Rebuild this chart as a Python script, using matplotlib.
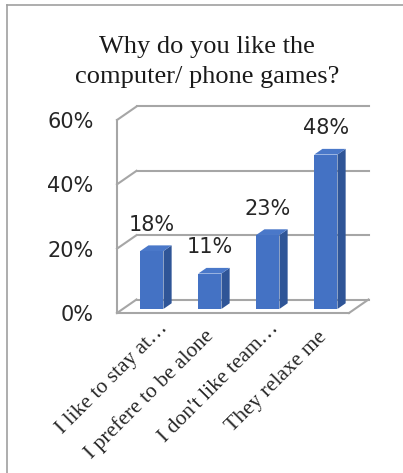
import matplotlib.pyplot as plt
from matplotlib.patches import Polygon

## données du graphique
categories = ['I like to stay at…', 'I prefere to be alone', "I don't like team…", 'They relaxe me']
values = [18, 11, 23, 48]
value_labels = ['18%', '11%', '23%', '48%']
yticks = [0, 20, 40, 60]
ytick_labels = ['0%', '20%', '40%', '60%']
title = 'Why do you like the\ncomputer/ phone games?'

W, H = 403, 473
fig = plt.figure(figsize=(W / 100, H / 100), dpi=100)
ax = fig.add_axes([117 / W, 1 - 313 / H, 232 / W, 193 / H])
ax.set_xlim(-0.5, 3.5)
ax.set_ylim(0, 60)

## profondeur de la boite 3d (unites des donnees)
DX = 19.5 / 58
DY = 13.5 / (193 / 60)
grid_c = '#a6a6a6'
lw = 1.5

## murs et sol
for g in yticks:
    ax.plot([-0.5 + DX, 3.5 + DX], [g + DY, g + DY], color=grid_c, lw=lw, clip_on=False, zorder=1)
    ax.plot([-0.5, -0.5 + DX], [g, g + DY], color=grid_c, lw=lw, clip_on=False, zorder=1)
ax.plot([-0.5, -0.5], [0, yticks[-1]], color=grid_c, lw=lw, clip_on=False, zorder=1)
ax.plot([-0.5, 3.5], [0, 0], color=grid_c, lw=lw, clip_on=False, zorder=1)
ax.plot([3.5, 3.5 + DX], [0, DY], color=grid_c, lw=lw, clip_on=False, zorder=1)

## barres 3d
d0, d1 = 0.3, 0.72
bw = 0.4
xs = [i + d0 * DX for i in range(len(values))]
ax.bar(xs, values, width=bw, bottom=d0 * DY, color='#4472c4', zorder=3)
ddx, ddy = (d1 - d0) * DX, (d1 - d0) * DY
for x, v in zip(xs, values):
    xl, xr = x - bw / 2, x + bw / 2
    b0, top = d0 * DY, v + d0 * DY
    ax.add_patch(Polygon([(xr, b0), (xr + ddx, b0 + ddy), (xr + ddx, top + ddy), (xr, top)],
                         closed=True, facecolor='#2f5597', edgecolor='none', zorder=3))
    ax.add_patch(Polygon([(xl, top), (xr, top), (xr + ddx, top + ddy), (xl + ddx, top + ddy)],
                         closed=True, facecolor='#4a78c9', edgecolor='none', zorder=3))

## etiquettes des valeurs
for x, v, lab in zip(xs, values, value_labels):
    ax.annotate(lab, (x, v + d0 * DY), xytext=(0, 19), textcoords='offset points',
                ha='center', va='center', fontsize=15, family='DejaVu Sans', color='#262626')

## axes
ax.set_yticks(yticks)
ax.set_yticklabels(ytick_labels, fontsize=15, family='DejaVu Sans', color='#262626')
ax.tick_params(axis='y', length=0, pad=17)
ax.set_xticks([])
for s in ax.spines.values():
    s.set_visible(False)
ax.patch.set_alpha(0)

## etiquettes des categories, fin de ligne de base (decalage en px depuis le centre)
nudge = [(22, -16), (10, -24), (17, -16), (7, -25)]
for i, (cat, (nx, ny)) in enumerate(zip(categories, nudge)):
    ax.annotate(cat, (i, 0), xytext=(nx * 0.72, ny * 0.72), textcoords='offset points',
                rotation=45, rotation_mode='anchor', ha='right', va='baseline',
                fontsize=15.5, family='Liberation Serif', color='#262626', annotation_clip=False)

## titre
fig.text(207 / W, 1 - 62 / H, title, ha='center', va='center', fontsize=19,
         family='Liberation Serif', linespacing=1.5, color='#1a1a1a')

## cadre
fig.add_artist(plt.Line2D([7 / W, 1], [1 - 5 / H, 1 - 5 / H], color='#a0a0a0', lw=1.2))
fig.add_artist(plt.Line2D([7 / W, 7 / W], [0, 1 - 5 / H], color='#a0a0a0', lw=1.2))

fig.savefig('out.png', dpi=100)
